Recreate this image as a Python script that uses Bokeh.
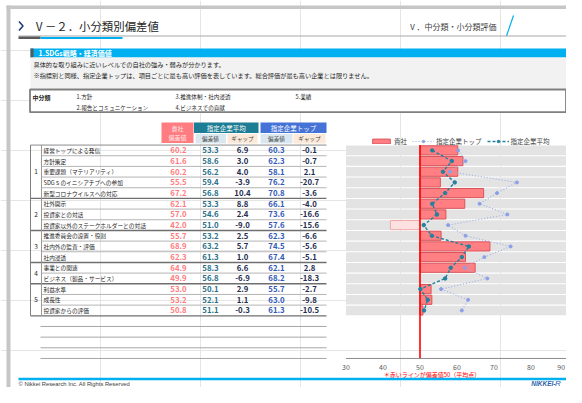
from bokeh.plotting import figure
from bokeh.models import Range1d, Legend, LegendItem, ColumnDataSource
from bokeh.core.properties import value
from bokeh.embed import file_html
from bokeh.resources import INLINE

# ---------------- data ----------------
title_text = "Ⅴ－２．小分類別偏差値"
section_text = "Ⅴ．中分類・小分類評価"
band_text = "1.SDGs戦略・経済価値"
desc_lines = ["具体的な取り組みに近いレベルでの自社の強み・弱みが分かります。",
              "※指標別と同様、指定企業トップは、項目ごとに最も高い評価を表しています。総合評価が最も高い企業とは限りません。"]
category_labels = ["1.方針", "2.報告とコミュニケーション", "3.推進体制・社内浸透",
                   "4.ビジネスでの貢献", "5.業績"]
items = ["経営トップによる発信", "方針策定", "重要課題（マテリアリティ）",
         "SDGｓのイニシアチブへの参加", "新型コロナウイルスへの対応",
         "社外開示", "投資家との対話", "投資家以外のステークホルダーとの対話",
         "推進委員会の設置・役割", "社内外の監査・評価", "社内浸透",
         "事業との関連", "ビジネス（製品・サービス）",
         "利益水準", "成長性", "投資家からの評価"]
item_groups = [1, 1, 1, 1, 1, 2, 2, 2, 3, 3, 3, 4, 4, 5, 5, 5]
own_scores = [60.2, 61.6, 60.2, 55.5, 67.2, 62.1, 57.0, 42.0, 55.7, 68.9, 62.3, 64.9, 49.9, 53.0, 53.2, 50.8]
avg_scores = [53.3, 58.6, 56.2, 59.4, 56.8, 53.3, 54.6, 51.0, 53.2, 63.2, 61.3, 58.3, 56.8, 50.1, 52.1, 51.1]
avg_gaps = [6.9, 3.0, 4.0, -3.9, 10.4, 8.8, 2.4, -9.0, 2.5, 5.7, 1.0, 6.6, -6.9, 2.9, 1.1, -0.3]
top_scores = [60.3, 62.3, 58.1, 76.2, 70.8, 66.1, 73.6, 57.6, 62.3, 74.5, 67.4, 62.1, 68.2, 55.7, 63.0, 61.3]
top_gaps = [-0.1, -0.7, 2.1, -20.7, -3.6, -4.0, -16.6, -15.6, -6.6, -5.6, -5.1, 2.8, -18.3, -2.7, -9.8, -10.5]
tick_values = [30, 40, 50, 60, 70, 80, 90]
tick_labels = ["30", "40", "50", "60", "70", "80", "90"]
mean_score = 50
series_names = ["貴社", "指定企業トップ", "指定企業平均"]
header_own = ["貴社", "偏差値"]
header_groups = ["指定企業平均", "指定企業トップ"]
header_sub = ["偏差値", "ギャップ"]
note_text = "＊赤いラインが偏差値50（平均点）"
copyright_text = "© Nikkei Research Inc. All Rights Reserved"

# ---------------- layout ----------------
W, H = 566, 387
X30, PXU = 345.5, 3.7          # pixel of value 30, pixels per unit
ROW0, ROWH = 149.9, 10.67      # pixel of row 0 centre, row height
JP = "Noto Sans CJK JP"
n = len(items)
rows = list(range(n))

p = figure(width=W, height=H, output_backend="svg", toolbar_location=None, tools="",
           x_range=Range1d(0, W), y_range=Range1d(H, 0),
           x_axis_location=None, y_axis_location=None, min_border=0)
p.outline_line_color = None
p.background_fill_color = "white"
p.border_fill_color = "white"
p.extra_x_ranges = {"val": Range1d(30 + (0 - X30) / PXU, 30 + (W - X30) / PXU)}
p.extra_y_ranges = {"row": Range1d((H - ROW0) / ROWH, (0 - ROW0) / ROWH)}


def T(x, y, text, size, color="#262626", align="left", style="normal",
      font=JP, xr="default", yr="default"):
    ts = text if isinstance(text, list) else [text]
    k = len(ts)
    xs = x if isinstance(x, list) else [x] * k
    ys = y if isinstance(y, list) else [y] * k
    p.text(x=xs, y=ys, text=ts, text_font=value(font), text_font_size=f"{size}px",
           text_color=color, text_align=align, text_baseline="middle",
           text_font_style=style, x_range_name=xr, y_range_name=yr)


def Q(l, r, t, b, fill, line=None, lw=1, xr="default", yr="default"):
    p.quad(left=[l], right=[r], top=[t], bottom=[b], fill_color=fill,
           line_color=line, line_width=lw, x_range_name=xr, y_range_name=yr)


def S(x0, y0, x1, y1, color, width=1, dash="solid", xr="default", yr="default"):
    p.segment(x0=[x0], y0=[y0], x1=[x1], y1=[y1], line_color=color, line_width=width,
              line_dash=dash, x_range_name=xr, y_range_name=yr)


# ---- slide frame ----
Q(6, 600, 5, 8.5, "#c6c6c6")
Q(6, 10, 5, 420, "#c6c6c6")

# ---- title ----
p.line(x=[18.5, 22.5, 18.5], y=[21, 25.5, 30], line_color="#1f3d7a", line_width=1.6)
T(33, 25.5, title_text, 11.4, "#262626")
T(408, 26, section_text, 8, "#404040")
S(506, 35.5, 513, 15, "#00b0f0", 1.2)
S(18, 35.5, 600, 35.5, "#a6a6a6", 1)
S(18, 37.3, 40, 37.3, "#595959", 2.5)
S(40, 37.6, 122, 37.6, "#00b0f0", 2)

# ---- section band + description ----
Q(30, 566, 48, 57, "#00b0f0")
Q(30, 33, 48, 57, "#595959")
T(38, 52.6, band_text, 7, "white", style="bold")
Q(30, 566, 57, 88, "#f2f2f2")
T(33, [63.5, 75], desc_lines, 6.2, "#262626")

# ---- category box ----
Q(29.5, 565.5, 89, 111.7, "white", "#7f7f7f", 1.8)
T(32, 96.7, "中分類", 6, "#262626", style="bold")
cat_x = [76, 76, 175, 175, 295]
cat_y = [96.7, 107.7, 96.7, 107.7, 96.7]
T(cat_x, cat_y, category_labels, 5.6, "#262626")

# ---- table header ----
Q(161, 193, 122, 142.5, "#ff7c80")
T(177, [127.8, 137.2], header_own, 6, "#fde4e4", align="center")
Q(193.5, 258, 122, 132.5, "#1d7d94")
Q(260, 326, 122, 132.5, "#4472d6")
T([225.7, 293], 127.5, header_groups, 6.5, "white", align="center")
Q(195, 225.5, 133.5, 143, "#dbe7ee")
Q(227, 257, 133.5, 143, "#fce9d9")
Q(260, 292, 133.5, 143, "#dbe7ee")
Q(293, 325, 133.5, 143, "#fce9d9")
T([210, 242, 276, 309], 138.3, header_sub * 2, 5.6, "#404040", align="center")

# ---- table body ----
for r in range(n - 1):
    b = r + 0.5
    if item_groups[r] != item_groups[r + 1]:
        S(30, b, 326, b, "#6f6f6f", 1.4, yr="row")
    else:
        S(41, b, 326, b, "#b4b4b4", 1, yr="row")
S(30, -0.5, 326, -0.5, "#8a8a8a", 1, yr="row")
S(30, n - 0.5, 326, n - 0.5, "#6f6f6f", 1.2, yr="row")
S(30, -0.5, 30, n - 0.5, "#7f7f7f", 1, yr="row")
S(41, -0.5, 41, n - 0.5, "#9a9a9a", 1, yr="row")
for k in range(1, 5):
    S(40, n - 0.5 + k, 326, n - 0.5 + k, "#a6a6a6", 1, yr="row")

group_ids = sorted(set(item_groups))
group_rows = [sum(i for i in rows if item_groups[i] == g) / item_groups.count(g) for g in group_ids]
T(35.5, group_rows, [str(g) for g in group_ids], 6.5, "#262626", align="center", yr="row")
T(43, rows, items, 5.7, "#262626", yr="row")
fmt = lambda v: f"{v:.1f}"
T(178, rows, [fmt(v) for v in own_scores], 7.8, "#ff7c80", "center", "bold", yr="row")
T(210, rows, [fmt(v) for v in avg_scores], 7.8, "#2a7088", "center", "bold", yr="row")
T(242, rows, [fmt(v) for v in avg_gaps], 7.8, "#1f2d50", "center", "bold", yr="row")
T(276, rows, [fmt(v) for v in top_scores], 7.8, "#3458b8", "center", "bold", yr="row")
T(309, rows, [fmt(v) for v in top_gaps], 7.8, "#1f2d50", "center", "bold", yr="row")

# ---- chart ----
src = ColumnDataSource(dict(
    row=rows, own=own_scores, avg=avg_scores, top=top_scores,
    fill=["#ff7f83" if v >= mean_score else "#fde0e0" for v in own_scores],
    edge=["#d9545a" if v >= mean_score else "#f0a8a8" for v in own_scores]))
p.hbar(y=rows, left=tick_values[0], right=tick_values[-1], height=0.9,
       fill_color="#e3e3e3", line_color=None, x_range_name="val", y_range_name="row")
bars = p.hbar(y="row", left=mean_score, right="own", height=0.86, source=src,
              fill_color="fill", line_color="edge", line_width=1,
              x_range_name="val", y_range_name="row")
axis_row = n + 3.5
S(mean_score, -0.5, mean_score, axis_row, "#ff0000", 1.6, xr="val", yr="row")
top_line = p.line(x="top", y="row", source=src, line_color="#9aaee8", line_width=1.1,
                  line_dash="1 2", x_range_name="val", y_range_name="row")
top_pts = p.scatter(x="top", y="row", source=src, size=3, marker="circle",
                    fill_color="#8aa0e6", line_color="#8aa0e6",
                    x_range_name="val", y_range_name="row")
avg_line = p.line(x="avg", y="row", source=src, line_color="#23819c", line_width=1.4,
                  line_dash="3 2", x_range_name="val", y_range_name="row")
avg_pts = p.scatter(x="avg", y="row", source=src, size=3.5, marker="circle",
                    fill_color="#23819c", line_color="#23819c",
                    x_range_name="val", y_range_name="row")

S(tick_values[0], axis_row, tick_values[-1], axis_row, "#8c8c8c", 1, xr="val", yr="row")
T(tick_values[:-1], axis_row + 0.82, tick_labels[:-1], 7, "#595959", "center",
  xr="val", yr="row")
T(tick_values[-1] - 0.8, axis_row + 0.82, tick_labels[-1], 7, "#595959", "right",
  xr="val", yr="row")
T(431.5, 373.5, note_text, 6, "#ff0000", "center")

legend = Legend(items=[
    LegendItem(label=series_names[0], renderers=[bars], index=0),
    LegendItem(label=series_names[1], renderers=[top_line, top_pts]),
    LegendItem(label=series_names[2], renderers=[avg_line, avg_pts])],
    location=(370, H - 145.5), orientation="horizontal",
    label_text_font=JP, label_text_font_size="6.5px", label_text_color="#404040",
    glyph_width=22, glyph_height=6, label_standoff=2, spacing=5, padding=0, margin=0,
    label_height=8, label_width=0, border_line_color=None, background_fill_alpha=0)
p.add_layout(legend)

# ---- footer ----
S(18, 378.5, 600, 378.5, "#00b0f0", 2.4)
T(18, 383.6, copyright_text, 5.8, "#404040", font="Liberation Sans")
T(555, 383.4, "NIKKEI-", 6.5, "#2e5fa8", "right", "bold italic", font="Liberation Sans")
T(554.5, 382.8, "R", 8, "#2e5fa8", "left", "italic", font="Liberation Sans")

open("out.html", "w").write(file_html(p, INLINE))
